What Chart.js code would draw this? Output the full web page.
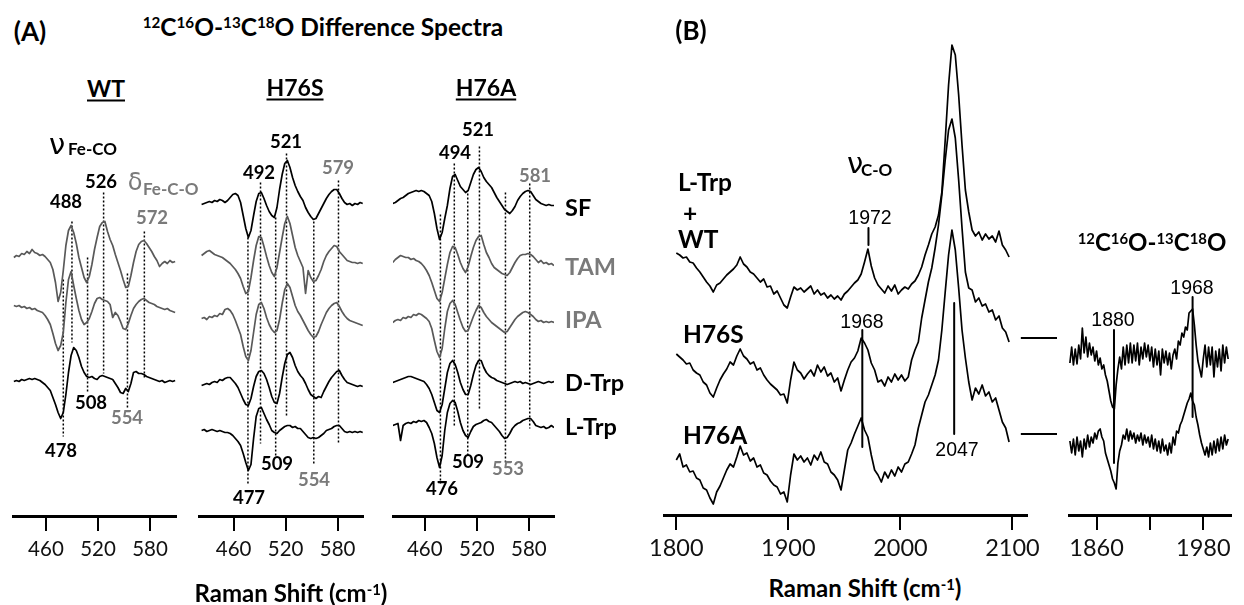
<!DOCTYPE html>
<html>
<head>
<meta charset="utf-8">
<script src="https://cdn.jsdelivr.net/npm/chart.js@4.4.1/dist/chart.umd.min.js"></script>
<style>
  html, body { margin: 0; padding: 0; background: #fff; overflow: hidden; }
  #page { position: relative; width: 1244px; height: 605px; }
  canvas { position: absolute; }
  .t { position: absolute; font-family: Lato, "Open Sans", sans-serif; font-weight: 700; color: #000;
       white-space: nowrap; line-height: 1; transform: translate(-50%, -50%); }
  .l { transform: translate(0, -50%); }
  .g { color: #7a7a7a; }
  .n { font-size: 18.5px; }
  .a { font-family: "Liberation Sans", Arial, sans-serif; font-weight: 400; font-size: 19.5px; }
  .gr { font-family: "DejaVu Sans", sans-serif; font-weight: 400; }
  sup { font-size: 0.62em; vertical-align: 0.5em; line-height: 0; }
  u { text-decoration-thickness: 2px; text-underline-offset: 3px; }
</style>
</head>
<body>
<div id="page">
  <canvas id="cWT" width="206" height="446" style="left:0px;top:120px"></canvas>
  <canvas id="cS" width="223" height="446" style="left:170px;top:120px"></canvas>
  <canvas id="cA" width="221" height="446" style="left:363px;top:120px"></canvas>
  <canvas id="cB" width="423" height="535" style="left:634px;top:30px"></canvas>
  <canvas id="cI" width="204" height="295" style="left:1040px;top:270px"></canvas>

  <!-- panel A -->
  <div class="t" style="left:30px;top:31px;font-size:26px">(A)</div>
  <div class="t" style="left:323px;top:27px;font-size:24.5px"><sup>12</sup>C<sup>16</sup>O-<sup>13</sup>C<sup>18</sup>O Difference Spectra</div>
  <div class="t" style="left:106px;top:88px;font-size:23px"><u>WT</u></div>
  <div class="t" style="left:295px;top:87px;font-size:23px"><u>H76S</u></div>
  <div class="t" style="left:486px;top:87px;font-size:23px"><u>H76A</u></div>

  <div class="t gr" style="left:57px;top:144px;font-size:29px">ν</div>
  <div class="t l" style="left:68px;top:148px;font-size:17px">Fe-CO</div>
  <div class="t gr g" style="left:135px;top:182px;font-size:24px">δ</div>
  <div class="t l g" style="left:143px;top:188px;font-size:17px">Fe-C-O</div>

  <div class="t n" style="left:66px;top:201px">488</div>
  <div class="t n" style="left:101px;top:181px">526</div>
  <div class="t n g" style="left:152px;top:217px">572</div>
  <div class="t n" style="left:61px;top:450px">478</div>
  <div class="t n" style="left:91px;top:402px">508</div>
  <div class="t n g" style="left:127px;top:417px">554</div>

  <div class="t n" style="left:286px;top:141px">521</div>
  <div class="t n" style="left:259px;top:172px">492</div>
  <div class="t n g" style="left:338px;top:167px">579</div>
  <div class="t n" style="left:249px;top:497px">477</div>
  <div class="t n" style="left:277px;top:463px">509</div>
  <div class="t n g" style="left:314px;top:479px">554</div>

  <div class="t n" style="left:478px;top:129px">521</div>
  <div class="t n" style="left:455px;top:152px">494</div>
  <div class="t n g" style="left:535px;top:175px">581</div>
  <div class="t n" style="left:442px;top:488px">476</div>
  <div class="t n" style="left:468px;top:461px">509</div>
  <div class="t n g" style="left:508px;top:468px">553</div>

  <div class="t l" style="left:565px;top:208px;font-size:23.5px">SF</div>
  <div class="t l g" style="left:565px;top:267px;font-size:23.5px">TAM</div>
  <div class="t l g" style="left:565px;top:320px;font-size:23.5px">IPA</div>
  <div class="t l" style="left:565px;top:383px;font-size:23.5px">D-Trp</div>
  <div class="t l" style="left:565px;top:427px;font-size:23.5px">L-Trp</div>

  <div class="t" style="left:291px;top:593px;font-size:24px">Raman Shift (cm<sup>-1</sup>)</div>

  <!-- panel B -->
  <div class="t" style="left:691px;top:30px;font-size:26px">(B)</div>
  <div class="t l" style="left:678px;top:182px;font-size:24.5px">L-Trp</div>
  <div class="t" style="left:690px;top:213px;font-size:24.5px">+</div>
  <div class="t l" style="left:678px;top:239px;font-size:24.5px">WT</div>
  <div class="t l" style="left:683px;top:334px;font-size:24.5px">H76S</div>
  <div class="t l" style="left:683px;top:435px;font-size:24.5px">H76A</div>

  <div class="t gr" style="left:855px;top:163px;font-size:29px">ν</div>
  <div class="t l" style="left:861px;top:169px;font-size:17px">C-O</div>
  <div class="t a" style="left:870px;top:218px">1972</div>
  <div class="t a" style="left:862px;top:322px">1968</div>
  <div class="t a" style="left:957px;top:450px">2047</div>

  <div class="t" style="left:1152px;top:242px;font-size:24px"><sup>12</sup>C<sup>16</sup>O-<sup>13</sup>C<sup>18</sup>O</div>
  <div class="t a" style="left:1113px;top:320px">1880</div>
  <div class="t a" style="left:1192px;top:288px">1968</div>

  <div class="t" style="left:865px;top:588px;font-size:24px">Raman Shift (cm<sup>-1</sup>)</div>
</div>

<script>
// ---- panel A: 12C16O-13C18O difference spectra, Raman shift (cm-1)
const xA = [423, 426, 429, 432, 435, 438, 441, 444, 447, 450, 453, 456, 459, 462, 465, 468, 471, 474, 477, 480,
  483, 486, 489, 492, 495, 498, 501, 504, 507, 510, 513, 516, 519, 522, 525, 528, 531, 534, 537, 540,
  543, 546, 549, 552, 555, 558, 561, 564, 567, 570, 573, 576, 579, 582, 585, 588, 591, 594, 597, 600,
  603, 606, 609];

// WT
const wtTAM = [0,2,1,4,3,6,4,8,5,4, 2,3,1,-2,-5,-12,-25,-44,-35,-13, 12,27,32,25,14,0,-10,-20,-25,-19,
  -7,8,20,31,35,36,26,18,12,3, -5,-13,-22,-30,-29,-18,-5,6,13,16, 17,14,10,6,1,-3,-9,-6,-4,-6, -3,-5,-4];
const wtIPA = [2,1,2,0,1,-1,0,-2,-1,-3, -4,-5,-8,-12,-17,-26,-36,-43,-38,-25, 5,28,36,22,9,-3,-12,-17,-15,-11,
  -4,4,9,10,8,7,6,3,-10,-5, -8,-14,-21,-22,-16,-8,-1,3,6,8, 9,7,5,4,3,1,0,-1,-2,-1, -3,-4,-5];
const wtTrp = [-1,0,-1,1,0,1,2,1,2,1, 0,-2,-4,-7,-10,-17,-24,-32,-38,-32, -14,8,25,33,30,23,14,8,4,3,
  4,2,1,4,5,4,3,2,1,-3, -7,-12,-13,-8,-11,-3,8,9,7,7, 6,4,3,2,1,0,-1,0,-2,-1, 0,-1,0];

// H76S
const sSF = [-2,-1,0,1,0,2,1,3,2,0, 2,5,8,9,7,0,-13,-26,-35,-28, -13,1,9,10,4,-3,-9,-13,-15,-5,
  13,28,39,42,35,25,17,11,6,2, -5,-10,-14,-17,-16,-11,-6,-1,4,8, 11,13,13,9,4,0,-2,-1,-3,-1, -2,0,-1];
const sTAM = [2,4,6,7,5,3,2,1,0,-2, -4,-6,-9,-12,-16,-21,-29,-36,-34,-20, -3,12,21,20,11,1,-8,-15,-19,-10,
  5,20,34,41,34,22,10,2,-4,-10, -36,-13,-20,-24,-23,-18,-12,-4,2,6, 9,12,11,6,3,0,-3,-4,-5,-5, -6,-5,-6];
const sIPA = [0,1,-1,2,1,3,2,5,4,9, 10,8,4,-2,-9,-16,-28,-38,-42,-32, -14,4,14,16,10,1,-6,-11,-14,-12,
  -1,15,29,35,31,22,13,7,3,-2, -7,-12,-16,-19,-18,-13,-6,0,6,10, 13,15,16,12,7,3,0,-2,-3,-4, -5,-6,-7];
const sDTrp = [-2,-1,0,-1,1,2,1,4,3,5, 6,6,3,0,-4,-10,-16,-21,-22,-15, -3,7,12,13,10,4,-4,-13,-19,-20,
  -10,6,20,29,31,26,18,12,8,5, 0,-6,-11,-13,-15,-13,-14,-8,-3,2, 6,9,12,13,8,4,1,0,-1,-2, -3,-2,-3];
const sLTrp = [0,1,-1,0,1,0,-1,0,-1,-2, -2,-3,-5,-8,-11,-15,-23,-32,-40,-34, -8,14,22,23,17,11,6,0,-2,-3,
  0,2,4,5,5,3,4,2,2,-1, -4,-7,-8,-7,-8,-7,-5,-3,0,1, 2,4,5,5,2,-1,-2,-1,-2,-1, -2,-1,-2];

// H76A
const aSF = [-1,0,2,4,5,7,9,10,11,12, 11,12,11,9,7,1,-11,-26,-37,-30, -16,-3,14,26,28,22,16,13,10,12,
  20,28,33,35,31,25,21,18,15,10, 5,1,-3,-7,-9,-11,-8,-4,2,6, 9,11,12,11,7,3,1,-1,-2,-3, -2,-3,-3];
const aTAM = [0,3,5,7,6,5,5,3,4,2, 1,-1,-4,-8,-13,-20,-28,-36,-39,-30, -16,-2,10,16,15,8,0,-6,-10,-4,
  6,15,22,26,27,18,10,5,-1,-5, -7,-9,-11,-12,-13,-10,-5,0,4,7, 8,8,9,8,6,3,0,2,-1,0, -2,-1,-3];
const aIPA = [-2,0,1,0,3,2,4,3,6,5, 7,6,4,2,-1,-8,-20,-31,-37,-28, -8,9,17,20,16,8,0,-7,-11,-10,
  -3,4,10,15,13,8,4,1,-2,-4, -6,-8,-10,-12,-11,-7,-3,1,4,6, 8,9,8,6,4,1,-1,0,-2,-1, -2,-1,-2];
const aDTrp = [0,1,2,3,4,5,6,6,5,4, 3,2,1,-2,-6,-12,-20,-28,-30,-22, -6,10,19,22,18,10,0,-7,-12,-12,
  -3,8,17,22,22,15,10,7,5,4, 2,1,0,-1,-2,-1,0,1,0,1, -1,0,-1,-2,-1,0,1,0,-1,0, 1,0,1];
const aLTrp = [0,1,2,-15,0,2,3,2,4,3, 5,4,5,3,-2,-8,-18,-32,-42,-30, -5,13,22,25,23,14,3,-5,-10,-12,
  -6,-1,1,2,3,5,6,4,3,0, -3,-6,-10,-13,-12,-8,-3,0,2,3, 5,6,7,7,4,0,-1,-2,-1,-3, -2,0,-2];

// stacking offsets of the traces in each panel
const wtOffsets = [-55, -105, -178];
const sOffsets = [0, -55, -116, -181, -228];
const aOffsets = [0, -60, -118, -180, -223];

// dotted marker lines: [shift, top, bottom]
const wtMarks = [[480, -77, -234], [490, -19, -140], [508, -55, -190], [526.5, 10, -171], [554, -71, -205], [573.5, -29, -176]];
const sMarks = [[476.5, -35, -281], [491, 20, -241], [508.5, -15, -255], [521, 49, -213], [552.5, -19, -261], [581, 22, -241]];
const aMarks = [[478, -12, -281], [494, 39, -224], [509.5, 9, -253], [523, 56, -206], [553, 10, -261], [581, 19, -226]];

const ticksA = [460, 520, 580];

// ---- panel B: nu(C-O) region
const xB = [1800,1803,1806,1809,1812,1815,1818,1821,1824,1827, 1830,1833,1836,1839,1842,1845,1848,1851,1854,1857,
  1860,1863,1866,1869,1872,1875,1878,1881,1884,1887, 1890,1893,1896,1899,1902,1905,1908,1911,1914,1917,
  1920,1923,1926,1929,1932,1935,1938,1941,1944,1947, 1950,1953,1956,1959,1962,1965,1968,1971,1974,1977,
  1980,1983,1986,1989,1992,1995,1998,2001,2004,2007, 2010,2013,2016,2019,2022,2025,2028,2031,2034,2037,
  2040,2043,2046,2049,2052,2055,2058,2061,2064,2067, 2070,2073,2076,2079,2082,2085,2088,2091,2094,2097];
const bWT = [47,45,42,43,38,37,32,28,23,18, 14,8,15,17,21,25,28,31,35,43, 36,33,28,26,22,18,21,13,14,6,
  9,2,-5,-8,3,13,10,12,8,11, 14,6,10,5,7,2,5,1,4,0, 6,9,13,17,20,26,38,51,34,22,
  15,11,7,14,9,15,6,10,13,11, 16,19,25,33,45,55,66,73,85,108, 160,215,255,245,205,155,110,88,70,64,
  68,60,66,61,64,58,69,55,50,43];
const bH76S = [46,43,40,36,37,30,27,25,18,15, 7,3,12,20,26,31,38,35,44,51, 44,41,36,38,30,32,25,20,16,13,
  10,5,6,-3,20,38,30,27,21,26, 30,24,35,28,33,24,27,18,22,9, 20,30,38,42,49,62,57,50,37,30,
  18,20,14,23,18,26,20,25,19,23, 40,50,58,82,100,118,132,152,175,205, 240,270,281,262,220,172,128,112,110,98,
  102,94,96,88,90,80,84,72,68,58];
const bH76A = [40,46,33,35,28,29,22,20,12,10, 2,-4,8,14,22,30,36,33,43,54, 45,47,39,42,33,35,27,25,19,15,
  13,6,8,-2,25,46,40,44,38,42, 35,45,40,48,38,36,28,25,20,10, 30,50,57,66,74,82,70,63,45,30,
  25,18,28,22,30,24,33,28,36,38, 46,55,72,85,98,105,115,125,140,170, 208,245,270,250,212,170,142,118,100,112,
  106,115,104,108,98,102,90,78,72,58];
const bOffsets = [0, -100, -200];
const ticksB = [1800, 1900, 2000, 2100];
// marker segments [x1, y1, x2, y2]
const bMarks = [[1971.5, 72, 1971.5, 55], [1966, -30, 1966, -147], [2048, -3, 2048, -134],
  [2107.5, -38, 2143, -38], [2107.5, -134, 2143, -134]];

// ---- inset: 12C16O-13C18O difference
const xC = [1830,1832,1834,1836,1838,1840,1842,1844,1846,1848, 1850,1852,1854,1856,1858,1860,1862,1864,1866,1868,
  1870,1872,1874,1876,1878,1880,1882,1884,1886,1888, 1890,1892,1894,1896,1898,1900,1902,1904,1906,1908,
  1910,1912,1914,1916,1918,1920,1922,1924,1926,1928, 1930,1932,1934,1936,1938,1940,1942,1944,1946,1948,
  1950,1952,1954,1956,1958,1960,1962,1964,1966,1968, 1970,1972,1974,1976,1978,1980,1982,1984,1986,1988,
  1990,1992,1994,1996,1998,2000,2002,2004,2006,2008];
const cH76S = [-8,8,-10,6,-9,10,-4,27,2,18, -2,12,0,8,-6,4,-10,-3,-14,-10, -20,-26,-36,-46,-52,-54,-30,-14,-2,-14,
  8,-10,10,-8,12,-8,10,-6,12,-10, 8,-4,12,-2,10,-6,8,-12,6,-10, 4,-20,6,-8,4,-10,2,-14,0,6,
  -4,14,10,22,18,28,25,42,44,46, 30,10,-6,-14,-22,-4,10,-12,8,-10, 8,-22,4,-12,6,-16,10,-8,8,-4];
const cH76A = [2,-10,4,-12,6,-8,2,-14,4,-6, 8,-4,6,0,10,4,12,14,6,2, -10,-16,-22,-28,-36,-40,-46,-20,-8,-2,
  8,4,14,2,12,4,10,0,8,2, 10,-2,8,0,6,-4,8,-6,4,-8, 2,-10,4,-8,-2,-12,0,-10,6,-2,
  12,10,18,22,28,34,40,44,50,42, 38,26,18,8,0,-6,-12,-4,-14,0, -12,2,-10,4,-8,6,-6,8,-2,4];
const cOffsets = [0, -88];
const ticksC = [1860, 1920, 1980];
const ticksCLabels = ['1860', '', '1980'];
const cMarks = [[1879.6, 25, 1879.6, -108], [1968, 58, 1968, -62]];

const BLACK = '#000';
const GRAY = '#595959';

function spectra(id, o) {
  const sets = [];
  o.traces.forEach((vals, i) => {
    sets.push({
      data: vals.map((v, j) => ({ x: o.xs[j], y: v + o.offsets[i] })),
      borderColor: o.colors[i],
      borderWidth: 1.7
    });
  });
  o.marks.forEach(m => {
    sets.push({
      data: [{ x: m[0], y: m[1] }, { x: m[2], y: m[3] }],
      borderColor: BLACK,
      borderWidth: o.dash ? 1.5 : 2,
      borderDash: o.dash || [],
      clip: false
    });
  });
  return new Chart(document.getElementById(id), {
    type: 'line',
    data: { datasets: sets },
    options: {
      responsive: false,
      animation: false,
      devicePixelRatio: 1,
      layout: { padding: { left: o.padL, right: o.padR, top: 0, bottom: 0 } },
      plugins: { legend: { display: false }, tooltip: { enabled: false } },
      elements: { point: { radius: 0 }, line: { tension: 0, borderJoinStyle: 'round' } },
      scales: {
        x: {
          type: 'linear', position: 'bottom', min: o.xmin, max: o.xmax,
          grid: { drawOnChartArea: false, drawTicks: true, tickLength: 15, color: BLACK, lineWidth: 2 },
          border: { display: true, color: BLACK, width: 3 },
          ticks: {
            font: { family: 'Lato', size: o.tickSize }, color: '#111', padding: o.tickPad,
            maxRotation: 0, autoSkip: false,
            callback: (v, i) => (o.tickLabels ? o.tickLabels[i] : String(v))
          },
          afterBuildTicks: s => { s.ticks = o.ticks.map(v => ({ value: v })); },
          afterFit: s => { s.height = 50; s.paddingLeft = 0; s.paddingRight = 0; }
        },
        y: { type: 'linear', display: false, min: o.ymin, max: o.ymax }
      }
    }
  });
}

spectra('cWT', {
  xs: xA, traces: [wtTAM, wtIPA, wtTrp], offsets: wtOffsets, colors: [GRAY, GRAY, BLACK],
  marks: wtMarks.map(m => [m[0], m[1], m[0], m[2]]), dash: [2, 2],
  xmin: 422, xmax: 610, ymin: -313.5, ymax: 82.5, padL: 13, padR: 30,
  ticks: ticksA, tickSize: 20.5, tickPad: 6
});
spectra('cS', {
  xs: xA, traces: [sSF, sTAM, sIPA, sDTrp, sLTrp], offsets: sOffsets, colors: [BLACK, GRAY, GRAY, BLACK, BLACK],
  marks: sMarks.map(m => [m[0], m[1], m[0], m[2]]), dash: [2, 2],
  xmin: 420, xmax: 609.3, ymin: -313.5, ymax: 82.5, padL: 29, padR: 30,
  ticks: ticksA, tickSize: 20.5, tickPad: 6
});
spectra('cA', {
  xs: xA, traces: [aSF, aTAM, aIPA, aDTrp, aLTrp], offsets: aOffsets, colors: [BLACK, GRAY, GRAY, BLACK, BLACK],
  marks: aMarks.map(m => [m[0], m[1], m[0], m[2]]), dash: [2, 2],
  xmin: 423.3, xmax: 609, ymin: -313.5, ymax: 82.5, padL: 30, padR: 30,
  ticks: ticksA, tickSize: 20.5, tickPad: 6
});
spectra('cB', {
  xs: xB, traces: [bWT, bH76S, bH76A], offsets: bOffsets, colors: [BLACK, BLACK, BLACK],
  marks: bMarks,
  xmin: 1789, xmax: 2113, ymin: -215, ymax: 270, padL: 30, padR: 30,
  ticks: ticksB, tickSize: 23.5, tickPad: 4
});
spectra('cI', {
  xs: xC, traces: [cH76S, cH76A], offsets: cOffsets, colors: [BLACK, BLACK],
  marks: cMarks,
  xmin: 1829, xmax: 2011.2, ymin: -160, ymax: 85, padL: 29, padR: 13,
  ticks: ticksC, tickLabels: ticksCLabels, tickSize: 23.5, tickPad: 4
});
</script>
</body>
</html>
